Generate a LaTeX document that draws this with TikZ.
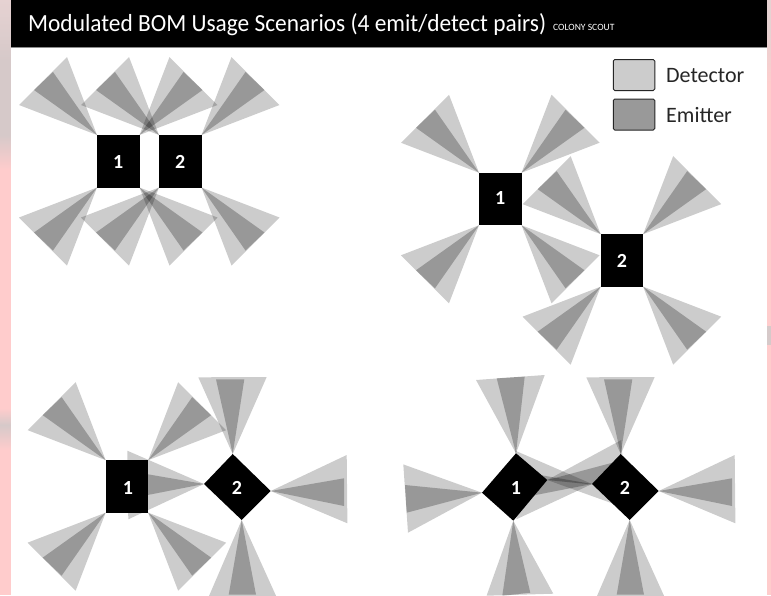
\documentclass[tikz,border=0pt]{standalone}
\usepackage{fontspec}
\setmainfont{Carlito}
\newfontfamily\titlefont[FakeStretch=0.95]{Carlito}
\definecolor{pinkbg}{HTML}{FFCCCC}
\definecolor{patchgray}{HTML}{D6C9C9}
\definecolor{stripgray}{HTML}{E6D2D2}
\definecolor{detgray}{HTML}{CCCCCC}
\definecolor{emitgray}{HTML}{999999}
\tikzset{
  detcone/.style={fill=black,fill opacity=0.2},
  emitcone/.style={fill=black,fill opacity=0.25},
  sq/.style={fill=black,minimum width=42.5pt,minimum height=52.5pt,inner sep=0pt},
  dialabel/.style={text=white,inner sep=0pt,font=\fontsize{20}{20}\selectfont\bfseries},
  legendbox/.style={draw=black!85,line width=1pt,rounded corners=1.5pt,minimum width=41.5pt,minimum height=31pt,inner sep=0pt},
  legendtext/.style={anchor=west,inner sep=0pt,text=black!85,font=\fontsize{22}{22}\selectfont},
}
% apex, detector offsets, emitter offsets
\newcommand\conepair[5]{%
  \fill[detcone,shift={(#1)}] (0,0) -- (#2) -- (#3) -- cycle;
  \fill[emitcone,shift={(#1)}] (0,0) -- (#4) -- (#5) -- cycle;
}
% cone pair leaving a square corner, sx and sy are the signs of its direction
\newcommand\cornerpair[3]{%
  \begin{scope}[shift={(#1)},xscale=#2,yscale=#3]
    \conepair{0,0}{-78,-30}{-30,-78}{-63,-45}{-44,-63}
  \end{scope}
}
% four corners of a square centred at x,y
\newcommand\squarepairs[2]{%
  \cornerpair{#1-21.25,#2-26.25}{1}{1}
  \cornerpair{#1+21.25,#2-26.25}{-1}{1}
  \cornerpair{#1-21.25,#2+26.25}{1}{-1}
  \cornerpair{#1+21.25,#2+26.25}{-1}{-1}
}
% diamond number 2 cones and shape, shifted by x
\newcommand\rightdiamondcones[1]{%
  \begin{scope}[shift={(#1,0)}]
    \conepair{232.7,454}{-34.4,-76.7}{34,-77}{-16.7,-74.7}{11.6,-74.7}
    \conepair{270.7,491}{76,-36}{76.7,32.3}{73.3,-12.7}{73.3,15}
    \conepair{241.7,520}{-32.7,76}{34.4,76}{-13,74.7}{14.3,74.7}
    \conepair{204,484}{-76.7,-33.3}{-75.7,35.3}{-73.3,-12.7}{-73.3,14.3}
  \end{scope}
}
\begin{document}
\begin{tikzpicture}[x=1pt,y=-1pt]
\path[use as bounding box,clip] (0,0) rectangle (771,595);
% page behind the panel
\fill[pinkbg] (0,0) rectangle (771,595);
\shade[top color=stripgray,bottom color=patchgray] (0,0) rectangle (11,60);
\shade[top color=patchgray,bottom color=pinkbg] (0,135) rectangle (11,170);
\fill[patchgray] (0,60) rectangle (11,135);
\shade[top color=pinkbg,bottom color=patchgray] (0,408) rectangle (11,425);
\shade[top color=patchgray,bottom color=pinkbg] (0,425) rectangle (11,450);
\shade[top color=stripgray,bottom color=pinkbg] (767,30) rectangle (771,85);
\fill[stripgray] (767,0) rectangle (771,30);
\fill[patchgray] (767,326) rectangle (771,345);
% panel and title bar
\fill[white] (11,0) rectangle (767,595);
\fill[black!45] (11,47) rectangle (767,48);
\fill[black] (11,0) rectangle (767,47);
\node[anchor=base west,inner sep=0pt,text=white,font=\titlefont\fontsize{24.6}{24.6}\selectfont] (title) at (28,31) {Modulated BOM Usage Scenarios (4 emit/detect pairs)};
\node[anchor=base west,inner sep=0pt,text=white,font=\fontsize{9.6}{10}\selectfont] (credit) at (553,30) {COLONY SCOUT};
% legend
\node[legendbox,fill=detgray] (detbox) at (634,75) {};
\node[legendbox,fill=emitgray] (emitbox) at (634,114.5) {};
\node[legendtext] (dettext) at (666,76) {Detector};
\node[legendtext] (emittext) at (666,115) {Emitter};
% scenario A
\squarepairs{118.25}{161.25}
\squarepairs{180.25}{161.25}
\node[sq] (a1box) at (118.25,161.25) {};
\node[sq] (a2box) at (180.25,161.25) {};
\node[dialabel] (a1) at (118.25,162) {1};
\node[dialabel] (a2) at (180.25,162) {2};
% scenario B
\squarepairs{500.25}{199}
\squarepairs{621.9}{260.4}
\node[sq] (b1box) at (500.25,199) {};
\node[sq] (b2box) at (621.9,260.4) {};
\node[dialabel] (b1) at (500.25,198.5) {1};
\node[dialabel] (b2) at (621.9,261) {2};
% scenario C
\squarepairs{126.9}{486.4}
\rightdiamondcones{0}
\node[sq] (c1box) at (126.9,486.4) {};
\node[dialabel] (c1) at (128,488) {1};
\fill[black] (232.7,454) -- (270.7,491) -- (241.7,520) -- (204,484) -- cycle;
\node[dialabel] (c2) at (237,488) {2};
% scenario D
\conepair{516,453.3}{-40,-73.3}{28.7,-78.3}{-19.3,-75}{8.7,-76.7}
\conepair{482,492.7}{-78.7,-28.3}{-74,40}{-77,-7.7}{-75.3,20}
\conepair{513.3,520.7}{-26.7,75}{40,73}{-11,75}{17,72}
\conepair{547.3,480}{78.7,28.3}{74,-40}{77,7.7}{75.3,-20}
\rightdiamondcones{388}
\fill[black] (516,453.3) -- (547.3,480) -- (513.3,520.7) -- (482,492.7) -- cycle;
\fill[black] (620.7,454) -- (658.7,491) -- (629.7,520) -- (592,484) -- cycle;
\node[dialabel] (d1) at (516,488) {1};
\node[dialabel] (d2) at (625,488) {2};
\end{tikzpicture}
\end{document}
